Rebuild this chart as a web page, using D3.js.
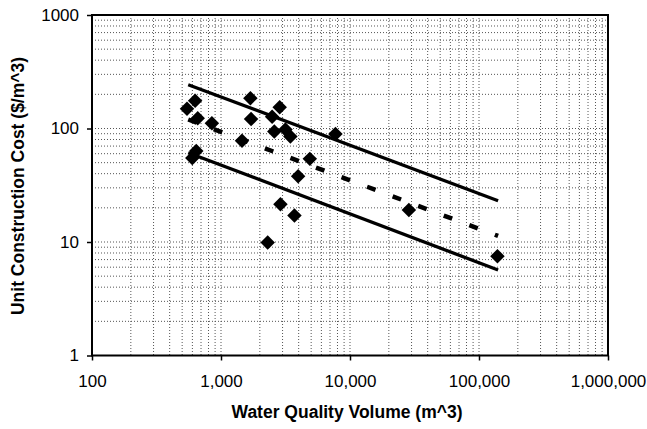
<!DOCTYPE html>
<html>
<head>
<meta charset="utf-8">
<script src="https://cdn.jsdelivr.net/npm/d3@7"></script>
<style>
  html, body { margin: 0; padding: 0; background: #fff; }
  text { font-family: "Liberation Sans", Arial, sans-serif; }
</style>
</head>
<body>
<div id="chart"></div>
<script>
// observed projects
var volume = [545, 630, 660, 850, 599, 643, 1455, 1690, 1710, 2300, 2490, 2590, 2850, 2890, 3160, 3450, 3710, 3960, 4880, 7710, 28600, 139000];
var cost   = [149, 176, 123, 111, 55, 63.4, 78, 185, 121, 9.9, 127, 94, 154, 21.5, 98, 85, 17.1, 38, 54, 89.5, 19.1, 7.5];

// fitted line and bounds
var fitVolume = [557, 140600];
var upperCost = [243, 23.1];
var meanCost  = [120, 11.3];
var lowerCost = [61.2, 5.67];

var xTicks = [100, 1000, 10000, 100000, 1000000];
var yTicks = [1, 10, 100, 1000];

var width = 647, height = 429;
var plotL = 92, plotR = 608, plotT = 15, plotB = 355.5;

var svg = d3.select("#chart").append("svg")
  .attr("width", width).attr("height", height);
svg.append("rect").attr("width", width).attr("height", height).attr("fill", "#fff");

var x = d3.scaleLog().domain([100, 1000000]).range([plotL, plotR]);
var y = d3.scaleLog().domain([1, 1000]).range([plotB, plotT]);

// minor + major grid values
var xGrid = [], yGrid = [];
xTicks.slice(0, -1).forEach(function(d) {
  for (var k = 1; k <= 9; k++) xGrid.push(d * k);
});
yTicks.slice(0, -1).forEach(function(d) {
  for (var k = 1; k <= 9; k++) yGrid.push(d * k);
});

var grid = svg.append("g");
grid.selectAll("line.v").data(xGrid.slice(1)).enter().append("line")
  .attr("x1", function(d) { return x(d); }).attr("x2", function(d) { return x(d); })
  .attr("y1", plotT).attr("y2", plotB)
  .attr("stroke", "#555").attr("stroke-width", 1).attr("stroke-dasharray", "1,2");
grid.selectAll("line.h").data(yGrid.slice(1)).enter().append("line")
  .attr("y1", function(d) { return y(d); }).attr("y2", function(d) { return y(d); })
  .attr("x1", plotL).attr("x2", plotR)
  .attr("stroke", "#555").attr("stroke-width", 1).attr("stroke-dasharray", "1,2");

// bound and fit lines
var line = d3.line()
  .x(function(d) { return x(d[0]); })
  .y(function(d) { return y(d[1]); });

[upperCost, lowerCost].forEach(function(c) {
  svg.append("path").datum(d3.zip(fitVolume, c)).attr("d", line)
    .attr("fill", "none").attr("stroke", "#000").attr("stroke-width", 3.3);
});
svg.append("path").datum(d3.zip(fitVolume, meanCost)).attr("d", line)
  .attr("fill", "none").attr("stroke", "#000").attr("stroke-width", 4.5)
  .attr("stroke-dasharray", "9,18.3");

// diamonds
var diamond = d3.symbol().type(d3.symbolSquare).size(105);
svg.append("g").selectAll("path").data(d3.zip(volume, cost)).enter().append("path")
  .attr("d", diamond)
  .attr("transform", function(d) { return "translate(" + x(d[0]) + "," + y(d[1]) + ") rotate(45)"; })
  .attr("fill", "#000");

// frame
svg.append("rect").attr("x", plotL).attr("y", plotT)
  .attr("width", plotR - plotL).attr("height", plotB - plotT)
  .attr("fill", "none").attr("stroke", "#000").attr("stroke-width", 2);

// axes
var fmt = d3.format(",");
var xAxis = d3.axisBottom(x).tickValues(xTicks).tickFormat(fmt).tickSize(5).tickPadding(14);
var yAxis = d3.axisLeft(y).tickValues(yTicks).tickFormat(d3.format("d")).tickSize(5).tickPadding(8);

var gx = svg.append("g").attr("transform", "translate(0," + plotB + ")").call(xAxis);
var gy = svg.append("g").attr("transform", "translate(" + plotL + ",0)").call(yAxis);
[gx, gy].forEach(function(g) {
  g.select(".domain").remove();
  g.selectAll("line").attr("stroke", "#000").attr("stroke-width", 1.5);
  g.selectAll("text").attr("font-size", "17px").attr("fill", "#000")
    .attr("font-family", "Liberation Sans, Arial, sans-serif");
});

// titles
svg.append("text").text("Water Quality Volume (m^3)")
  .attr("x", 347).attr("y", 418).attr("text-anchor", "middle")
  .attr("font-size", "17.5px").attr("font-weight", "bold");
svg.append("text").text("Unit Construction Cost ($/m^3)")
  .attr("transform", "translate(24,186) rotate(-90)").attr("text-anchor", "middle")
  .attr("font-size", "17.5px").attr("font-weight", "bold");
</script>
</body>
</html>
